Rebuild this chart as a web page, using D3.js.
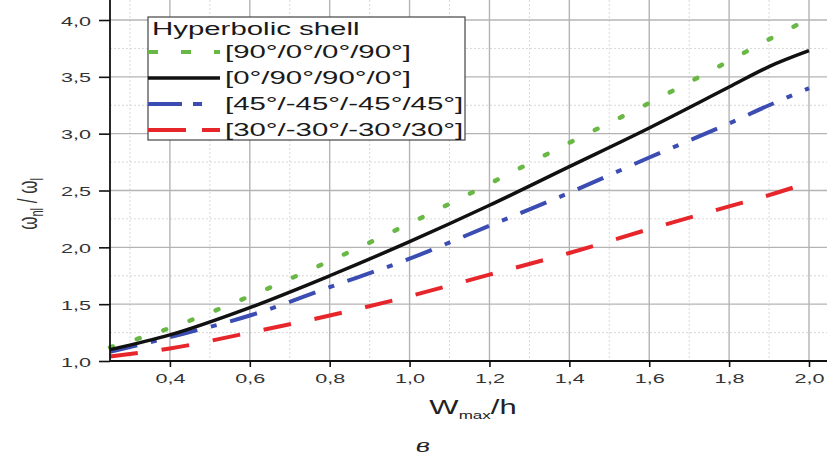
<!DOCTYPE html>
<html><head><meta charset="utf-8">
<script src="https://cdn.jsdelivr.net/npm/d3@7"></script>
<style>body{margin:0;background:#fff} svg{display:block}</style>
</head><body>
<svg id="c" width="827" height="456"></svg>
<script>
// ---- data ----
const xValues = [0.25, 0.4, 0.6, 0.8, 1.0, 1.2, 1.4, 1.6, 1.8, 1.9, 2.0];
const s90_0_0_90   = [1.12, 1.29, 1.57, 1.88, 2.21, 2.56, 2.92, 3.27, 3.64, 3.83, 4.01];
const s0_90_90_0   = [1.10, 1.23, 1.47, 1.75, 2.05, 2.37, 2.71, 3.05, 3.41, 3.59, 3.73];
const s45_m45      = [1.08, 1.21, 1.40, 1.65, 1.90, 2.19, 2.48, 2.79, 3.09, 3.25, 3.40];
const s30_m30      = [1.04, 1.11, 1.25, 1.40, 1.57, 1.76, 1.95, 2.16, 2.36, 2.46, 2.57];
const seriesNames  = ["[90°/0°/0°/90°]", "[0°/90°/90°/0°]", "[45°/-45°/-45°/45°]", "[30°/-30°/-30°/30°]"];
const legendTitle  = "Hyperbolic shell";
const xTicks      = [0.4, 0.6, 0.8, 1.0, 1.2, 1.4, 1.6, 1.8, 2.0];
const xMinorTicks = [0.3, 0.5, 0.7, 0.9, 1.1, 1.3, 1.5, 1.7, 1.9];
const yTicks      = [1.0, 1.5, 2.0, 2.5, 3.0, 3.5, 4.0];
const yMinorTicks = [1.25, 1.75, 2.25, 2.75, 3.25, 3.75];

// ---- setup ----
const W = 827, H = 456;
const FONT = "'Liberation Sans', Arial, sans-serif";
const svg = d3.select('#c');
svg.append('rect').attr('width', W).attr('height', H).attr('fill', '#fff');

const x = d3.scaleLinear().domain([0.25, 2.0]).range([110, 809]);
const y = d3.scaleLinear().domain([1, 4]).range([361, 20]);
const fmt = d => d3.format('.1f')(d).replace('.', ',');

// ---- grid ----
const grid = svg.append('g');
grid.selectAll('.vmin').data(xMinorTicks).join('line')
  .attr('x1', d => x(d)).attr('x2', d => x(d)).attr('y1', 0).attr('y2', y(1))
  .attr('stroke', '#d8d8d8').attr('stroke-width', 1).attr('stroke-dasharray', '2,2');
grid.selectAll('.hmin').data(yMinorTicks).join('line')
  .attr('x1', x(0.25)).attr('x2', W).attr('y1', d => y(d)).attr('y2', d => y(d))
  .attr('stroke', '#d8d8d8').attr('stroke-width', 1).attr('stroke-dasharray', '2,2');
grid.selectAll('.vmaj').data(xTicks).join('line')
  .attr('x1', d => x(d)).attr('x2', d => x(d)).attr('y1', 0).attr('y2', y(1))
  .attr('stroke', '#b4b4b4').attr('stroke-width', 1.4);
grid.selectAll('.hmaj').data(yTicks.slice(1)).join('line')
  .attr('x1', x(0.25)).attr('x2', W).attr('y1', d => y(d)).attr('y2', d => y(d))
  .attr('stroke', '#b4b4b4').attr('stroke-width', 1.4);

// ---- series ----
const series = [
  {vals: s90_0_0_90, color: '#69b845', width: 4.5, dash: '3,25', cap: 'round', ldash: '10,23', lcap: 'butt'},
  {vals: s0_90_90_0, color: '#111111', width: 3.5, dash: null, cap: 'butt', ldash: null, lcap: 'butt'},
  {vals: s45_m45,    color: '#3b4db2', width: 4,   dash: '28,14,6,14', cap: 'butt', ldash: '34,11,9,40', lcap: 'butt'},
  {vals: s30_m30,    color: '#e6262b', width: 4,   dash: '28,24', cap: 'butt', ldash: '38,16', lcap: 'butt'}
];
const line = d3.line().x(d => x(d[0])).y(d => y(d[1])).curve(d3.curveMonotoneX);
const drawOrder = [3, 2, 0, 1];
drawOrder.forEach(i => {
  const s = series[i];
  svg.append('path')
    .attr('d', line(xValues.map((xv, k) => [xv, s.vals[k]])))
    .attr('fill', 'none').attr('stroke', s.color).attr('stroke-width', s.width)
    .attr('stroke-linecap', s.cap).attr('stroke-linejoin', 'round')
    .attr('stroke-dasharray', s.dash);
});

// ---- axes ----
const SX = 1.6;
const gx = svg.append('g').attr('transform', `translate(0,${y(1)})`);
gx.call(d3.axisBottom(x).tickValues(xMinorTicks).tickSize(4).tickFormat(''));
gx.call(d3.axisBottom(x).tickValues(xTicks).tickSize(6).tickFormat(fmt));
gx.selectAll('.domain').remove();
gx.selectAll('line').attr('stroke', '#111').attr('stroke-width', 1.6);
gx.selectAll('text').attr('y', null).attr('dy', null)
  .attr('transform', `translate(0,22) scale(${SX},1)`)
  .attr('font-family', FONT).attr('font-size', 13.5).attr('fill', '#333');

const gy = svg.append('g').attr('transform', `translate(${x(0.25)},0)`);
gy.call(d3.axisLeft(y).tickValues(yMinorTicks).tickSize(6).tickFormat(''));
gy.call(d3.axisLeft(y).tickValues(yTicks).tickSize(11).tickFormat(fmt));
gy.selectAll('.domain').remove();
gy.selectAll('line').attr('stroke', '#111').attr('stroke-width', 1.6);
gy.selectAll('text').attr('x', null).attr('dy', null)
  .attr('text-anchor', 'end')
  .attr('transform', `translate(-19,5) scale(${SX},1)`)
  .attr('font-family', FONT).attr('font-size', 13.5).attr('fill', '#333');

// axis lines
svg.append('line').attr('x1', x(0.25)).attr('x2', x(0.25)).attr('y1', 0).attr('y2', y(1))
  .attr('stroke', '#111').attr('stroke-width', 1.8);
svg.append('line').attr('x1', x(0.25)).attr('x2', W).attr('y1', y(1)).attr('y2', y(1))
  .attr('stroke', '#111').attr('stroke-width', 1.8);

// axis titles
const xt = svg.append('text').attr('transform', `translate(473,414) scale(1.55,1)`)
  .attr('text-anchor', 'middle').attr('font-family', FONT).attr('fill', '#222').attr('font-size', 20);
xt.append('tspan').text('W');
xt.append('tspan').attr('font-size', 11).attr('dy', 5).text('max');
xt.append('tspan').attr('dy', -5).text('/h');

const yt = svg.append('text').attr('transform', `translate(37,204) scale(1.6,1) rotate(-90)`)
  .attr('text-anchor', 'middle').attr('font-family', FONT).attr('fill', '#333').attr('font-size', 17);
yt.append('tspan').text('ω');
yt.append('tspan').attr('font-size', 11).attr('dy', 4).text('nl');
yt.append('tspan').attr('dy', -4).text(' / ω');
yt.append('tspan').attr('font-size', 11).attr('dy', 4).text('l');

// caption
svg.append('text').attr('transform', `translate(423,452) scale(1.3,1)`)
  .attr('text-anchor', 'middle').attr('font-family', "'DejaVu Serif', 'Liberation Serif', serif")
  .attr('font-style', 'italic').attr('font-size', 19).attr('fill', '#222').text('в');

// ---- legend ----
const lg = svg.append('g');
lg.append('rect').attr('x', 148).attr('y', 17).attr('width', 317).attr('height', 123)
  .attr('fill', '#fff').attr('stroke', '#444').attr('stroke-width', 1.2);
lg.append('text').attr('transform', `translate(152,35) scale(1.68,1)`)
  .attr('font-family', FONT).attr('font-size', 17.5).attr('fill', '#1a1a1a').text(legendTitle);
const rowY = [52, 78, 104, 130];
series.forEach((s, i) => {
  lg.append('line').attr('x1', 148).attr('x2', 220).attr('y1', rowY[i]).attr('y2', rowY[i])
    .attr('stroke', s.color).attr('stroke-width', s.width === 4.5 ? 4 : s.width)
    .attr('stroke-dasharray', s.ldash).attr('stroke-linecap', s.lcap);
  lg.append('text').attr('transform', `translate(225,${rowY[i] + 6}) scale(1.68,1)`)
    .attr('font-family', FONT).attr('font-size', 17.5).attr('fill', '#1a1a1a').text(seriesNames[i]);
});
</script>
</body></html>
